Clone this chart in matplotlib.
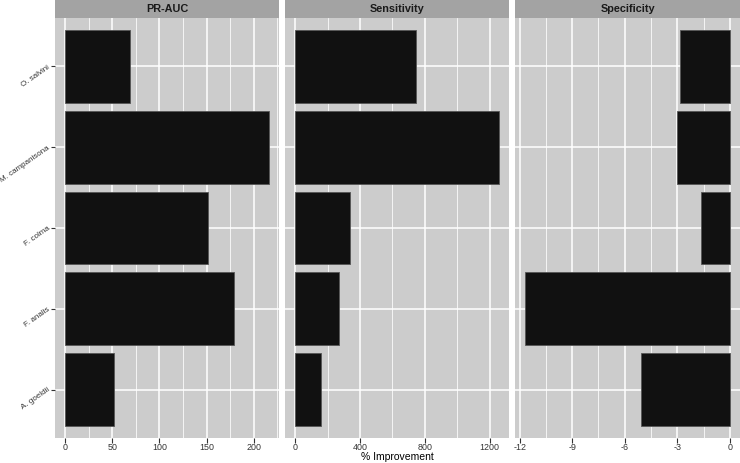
import numpy as np
import matplotlib.pyplot as plt

# %%
species = ["A. goeldii", "F. analis", "F. colma", "M. campanisona", "O. salvini"]
pr_auc = [52, 179, 151.5, 216, 68.7]
sensitivity = [160, 270, 336, 1256, 746]
specificity = [-5.07, -11.68, -1.62, -3.0, -2.83]

metrics = ["PR-AUC", "Sensitivity", "Specificity"]
major_ticks = [[0, 50, 100, 150, 200], [0, 400, 800, 1200], [-12, -9, -6, -3, 0]]
tick_labels = [["0", "50", "100", "150", "200"], ["0", "400", "800", "1200"],
               ["-12", "-9", "-6", "-3", "0"]]
minor_ticks = [[25, 75, 125, 175, 225], [200, 600, 1000], [-10.5, -7.5, -4.5, -1.5]]

# %%
plt.rcParams['font.family'] = ['Liberation Sans', 'DejaVu Sans']

W, H = 740, 463
fig = plt.figure(figsize=(W / 100, H / 100), dpi=100)

panel_x = [(55, 279), (285, 509), (515, 740)]
top, bottom = 18, 438
panel_bg = "#cccccc"
strip_bg = "#a3a3a3"

values = [pr_auc, sensitivity, specificity]
ypos = np.arange(len(species))

for i, (x0, x1) in enumerate(panel_x):
    ax = fig.add_axes([x0 / W, (H - bottom) / H, (x1 - x0) / W, (bottom - top) / H])
    ax.set_facecolor(panel_bg)
    vals = np.array(values[i])
    ax.barh(ypos, vals, height=0.9, color="#111111", edgecolor="#555555",
            linewidth=0.6, zorder=3)
    lo, hi = min(0, vals.min()), max(0, vals.max())
    pad = 0.05 * (hi - lo)
    ax.set_xlim(lo - pad, hi + pad)
    ax.set_ylim(-0.6, len(species) - 0.4)

    ax.set_xticks(major_ticks[i])
    ax.set_xticklabels(tick_labels[i])
    ax.set_xticks(minor_ticks[i], minor=True)
    ax.grid(True, which="major", color="white", linewidth=1.1, zorder=0)
    ax.grid(True, which="minor", axis="x", color="white", linewidth=0.55, zorder=0)
    ax.set_axisbelow(True)
    for s in ax.spines.values():
        s.set_visible(False)
    ax.tick_params(axis="x", which="major", length=3.4, width=0.8, color="#333333",
                   labelsize=6.4, labelcolor="#333333", pad=0.5)
    ax.tick_params(which="minor", length=0)

    ax.set_yticks(ypos)
    if i == 0:
        ax.set_yticklabels(species, rotation=35, ha="right", va="center",
                           rotation_mode="anchor")
        ax.tick_params(axis="y", length=3.0, width=0.8, color="#333333",
                       labelsize=5.8, labelcolor="#333333", pad=1.0)
    else:
        ax.set_yticklabels([])
        ax.tick_params(axis="y", length=0)

    # strip on top
    sax = fig.add_axes([x0 / W, (H - top) / H, (x1 - x0) / W, top / H])
    sax.set_facecolor(strip_bg)
    sax.set_xticks([])
    sax.set_yticks([])
    for s in sax.spines.values():
        s.set_visible(False)
    sax.text(0.5, 0.5, metrics[i], ha="center", va="center", fontsize=7.8,
             fontweight="bold", color="#1a1a1a", transform=sax.transAxes)

# shared x label under the middle panel
fig.text((285 + 509) / 2 / W, (H - 457.5) / H, "% Improvement",
         ha="center", va="center", fontsize=7.5)

fig.savefig("out.png", dpi=100)
